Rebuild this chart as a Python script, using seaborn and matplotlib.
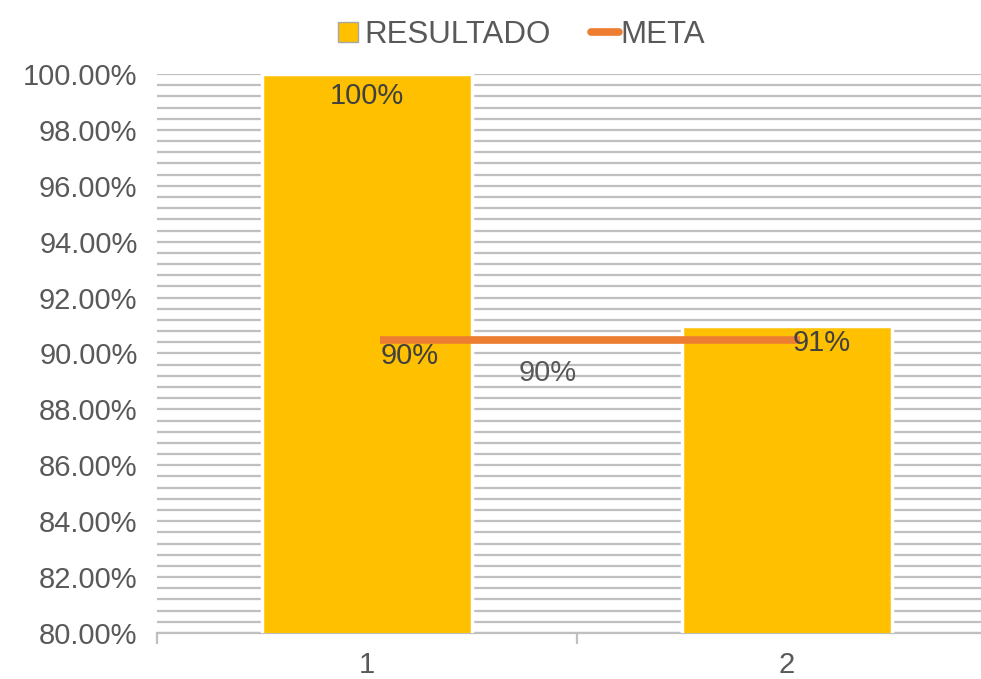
import numpy as np
import pandas as pd
import matplotlib
matplotlib.use("Agg")
import matplotlib.pyplot as plt
from matplotlib.ticker import FuncFormatter, MultipleLocator
from matplotlib.lines import Line2D
import seaborn as sns

# Chart data
categories = ["1", "2"]
resultado = [1.00, 0.91]
meta = [0.9049, 0.9049]
y_ticks = [0.80, 0.82, 0.84, 0.86, 0.88, 0.90, 0.92, 0.94, 0.96, 0.98, 1.00]

BAR_COLOR = "#FFC000"
LINE_COLOR = "#ED7D31"
GRID_COLOR = "#BFBFBF"
TEXT_COLOR = "#595959"
LABEL_COLOR = "#404040"

sns.set_theme(style="white")
plt.rcParams["font.family"] = ["Liberation Sans", "DejaVu Sans"]

fig = plt.figure(figsize=(9.81, 6.79), dpi=100)
ax = fig.add_axes([157 / 981, 46 / 679, 840 / 981, 559 / 679])

df = pd.DataFrame({"cat": categories, "resultado": resultado})
sns.barplot(data=df, x="cat", y="resultado", width=0.5, color=BAR_COLOR,
            saturation=1, edgecolor="white", linewidth=2.5, ax=ax, zorder=2)

# META line, drawn slightly right of the category centres
xpos = np.arange(len(categories)) + 0.03
sns.lineplot(x=xpos, y=meta, color=LINE_COLOR, linewidth=5.5, ax=ax,
             zorder=3, solid_capstyle="butt")

ax.set_xlim(-0.5, len(categories) - 0.5)
ax.set_ylim(y_ticks[0], y_ticks[-1])
ax.set_yticks(y_ticks)
ax.yaxis.set_minor_locator(MultipleLocator(0.004))
ax.yaxis.set_major_formatter(FuncFormatter(lambda v, _: f"{v * 100:.2f}%"))

ax.grid(False)
ax.set_axisbelow(True)
for yv in np.arange(0.80, 1.0001, 0.004):
    ax.axhline(yv, color=GRID_COLOR, linewidth=1.6, zorder=0)

for side in ["left", "right", "top"]:
    ax.spines[side].set_visible(False)
ax.spines["bottom"].set_color(GRID_COLOR)
ax.spines["bottom"].set_linewidth(1.6)
ax.spines["bottom"].set_zorder(1)

# category boundary ticks on the x axis
ax.set_xticks(np.arange(len(categories)))
ax.set_xticklabels(categories)
ax.set_xticks(np.arange(len(categories) + 1) - 0.5, minor=True)
ax.tick_params(axis="x", which="major", bottom=False, length=0, pad=13,
               labelsize=21, labelcolor=TEXT_COLOR)
ax.tick_params(axis="x", which="minor", bottom=True, length=8, width=1.6,
               color=GRID_COLOR, direction="out")
ax.tick_params(axis="y", which="both", left=False, length=0, pad=14,
               labelsize=21, labelcolor=TEXT_COLOR)
ax.set_xlabel("")
ax.set_ylabel("")

# data labels
ax.annotate(f"{resultado[0]:.0%}", xy=(0, resultado[0]), xytext=(0, -22),
            textcoords="offset pixels", ha="center", va="center",
            fontsize=21, color=LABEL_COLOR, zorder=5)
ax.annotate(f"{resultado[1]:.0%}", xy=(1, resultado[1]), xytext=(35, -17),
            textcoords="offset pixels", ha="center", va="center",
            fontsize=21, color=LABEL_COLOR, zorder=5)
ax.annotate(f"{meta[0]:.0%}", xy=(xpos[0], meta[0]), xytext=(30, -16),
            textcoords="offset pixels", ha="center", va="center",
            fontsize=21, color=LABEL_COLOR, zorder=5)
ax.annotate(f"{meta[1]:.0%}", xy=(xpos[1], meta[1]), xytext=(-252, -33),
            textcoords="offset pixels", ha="center", va="center",
            fontsize=21, color=TEXT_COLOR, zorder=5)

handles = [
    Line2D([0], [0], linestyle="none", marker="s", markersize=15,
           markerfacecolor=BAR_COLOR, markeredgecolor="#A6A6A6",
           markeredgewidth=1.0, label="RESULTADO"),
    Line2D([0], [0], color=LINE_COLOR, linewidth=5.5, label="META"),
]
fig.legend(handles=handles, loc="upper center", bbox_to_anchor=(0.53, 1.012),
           ncol=2, frameon=False, fontsize=22.5, labelcolor=TEXT_COLOR,
           handlelength=0.9, handletextpad=0.05, columnspacing=1.3)

fig.savefig("out.png", dpi=100)
